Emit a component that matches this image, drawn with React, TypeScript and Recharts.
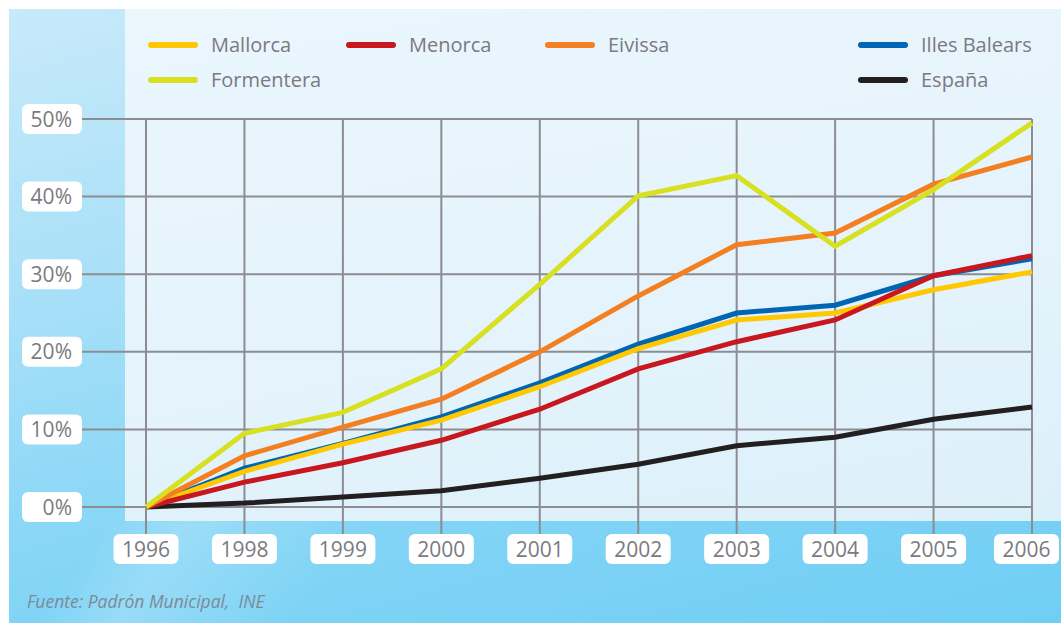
import { CartesianGrid, Line, LineChart, XAxis, YAxis } from "recharts";

const years = ["1996", "1998", "1999", "2000", "2001", "2002", "2003", "2004", "2005", "2006"];
const mallorca = [0, 4.6, 8.1, 11.2, 15.5, 20.4, 24.1, 25.0, 28.0, 30.3];
const menorca = [0, 3.2, 5.7, 8.6, 12.6, 17.8, 21.3, 24.1, 29.8, 32.4];
const eivissa = [0, 6.6, 10.3, 13.9, 20.0, 27.2, 33.8, 35.3, 41.6, 45.1];
const formentera = [0, 9.5, 12.2, 17.8, 28.7, 40.1, 42.7, 33.6, 40.9, 49.5];
const illesBalears = [0, 5.0, 8.2, 11.6, 16.0, 21.0, 25.0, 26.0, 29.8, 32.0];
const espana = [0, 0.5, 1.3, 2.1, 3.7, 5.5, 7.9, 9.0, 11.3, 12.9];
const yTicks = [0, 10, 20, 30, 40, 50];

const data = years.map((year, i) => ({
  year,
  mallorca: mallorca[i],
  menorca: menorca[i],
  eivissa: eivissa[i],
  formentera: formentera[i],
  illesBalears: illesBalears[i],
  espana: espana[i],
}));

const series = [
  { key: "espana", name: "España", color: "#231f20" },
  { key: "illesBalears", name: "Illes Balears", color: "#0066b3" },
  { key: "mallorca", name: "Mallorca", color: "#ffc800" },
  { key: "menorca", name: "Menorca", color: "#c8171e" },
  { key: "eivissa", name: "Eivissa", color: "#f37f21" },
  { key: "formentera", name: "Formentera", color: "#d7e021" },
];

const legendItems = [
  { name: "Mallorca", color: "#ffc800", left: 148, top: 45 },
  { name: "Menorca", color: "#c8171e", left: 346, top: 45 },
  { name: "Eivissa", color: "#f37f21", left: 545, top: 45 },
  { name: "Illes Balears", color: "#0066b3", left: 858, top: 45 },
  { name: "Formentera", color: "#d7e021", left: 148, top: 80 },
  { name: "España", color: "#231f20", left: 858, top: 80 },
];

const FONT = "'Open Sans', 'Noto Sans', sans-serif";
const GRID = "#8c8c91";
const TEXT = "#7a7a7f";
const PLOT_LEFT = 146;
const PLOT_BOTTOM = 507;
const LABEL_TOP = 534;

const YTick = (props: any) => {
  const { y, payload } = props;
  return (
    <g>
      <line x1={82} x2={PLOT_LEFT} y1={y} y2={y} stroke={GRID} strokeWidth={2} />
      <rect x={22} y={y - 15} width={60} height={30} rx={6} fill="#fff" />
      <text x={72} y={y + 7.5} textAnchor="end" fontFamily={FONT} fontSize={21} fill={TEXT}>
        {payload.value}%
      </text>
    </g>
  );
};

const XTick = (props: any) => {
  const { x, payload } = props;
  const boxW = 65;
  const boxX = Math.min(x - boxW / 2, 1061 - boxW - 2);
  return (
    <g>
      <line x1={x} x2={x} y1={PLOT_BOTTOM} y2={LABEL_TOP} stroke={GRID} strokeWidth={2} />
      <rect x={boxX} y={LABEL_TOP} width={boxW} height={30} rx={6} fill="#fff" />
      <text
        x={boxX + boxW / 2}
        y={LABEL_TOP + 22.5}
        textAnchor="middle"
        fontFamily={FONT}
        fontSize={21}
        fill={TEXT}
      >
        {payload.value}
      </text>
    </g>
  );
};

export default function App() {
  return (
    <div style={{ position: "absolute", left: 0, top: 0, width: 1061, height: 623, background: "#fff", overflow: "hidden" }}>
      <div
        style={{
          position: "absolute",
          left: 9,
          top: 9,
          width: 1052,
          height: 614,
          background: "linear-gradient(165deg, #c8eafa 0%, #a6dff8 35%, #84d5f6 65%, #70cef4 100%)",
        }}
      />
      <div
        style={{
          position: "absolute",
          left: 9,
          top: 300,
          width: 1052,
          height: 323,
          background: "linear-gradient(125deg, rgba(255,255,255,0) 20%, rgba(255,255,255,0.18) 26%, rgba(255,255,255,0) 40%)",
        }}
      />
      <div
        style={{
          position: "absolute",
          left: 125,
          top: 9,
          width: 936,
          height: 512,
          background: "linear-gradient(170deg, #ebf6fd 0%, #e4f3fc 60%, #dcf0fa 100%)",
        }}
      />
      {legendItems.map((item) => (
        <div key={item.name} style={{ position: "absolute", left: item.left, top: item.top - 14, height: 28, display: "flex", alignItems: "center" }}>
          <div style={{ width: 50, height: 6, borderRadius: 3, background: item.color }} />
          <span style={{ marginLeft: 13, fontFamily: FONT, fontSize: 20, color: TEXT, lineHeight: "28px" }}>{item.name}</span>
        </div>
      ))}
      <div
        style={{
          position: "absolute",
          left: 27,
          top: 589,
          fontFamily: FONT,
          fontStyle: "italic",
          fontSize: 17.5,
          color: "#7b8a97",
          whiteSpace: "pre",
        }}
      >
        {"Fuente: Padrón Municipal,  INE"}
      </div>
      <div style={{ position: "absolute", left: 0, top: 0 }}>
        <LineChart width={1061} height={623} data={data} margin={{ top: 119, right: 29, left: 82, bottom: 56 }}>
          <CartesianGrid stroke={GRID} strokeWidth={2} strokeOpacity={1} />
          <XAxis
            dataKey="year"
            interval={0}
            axisLine={false}
            tickLine={false}
            height={60}
            tick={<XTick />}
          />
          <YAxis
            type="number"
            domain={[0, 50]}
            ticks={yTicks}
            axisLine={false}
            tickLine={false}
            width={64}
            tick={<YTick />}
          />
          {series.map((s) => (
            <Line
              key={s.key}
              type="linear"
              dataKey={s.key}
              name={s.name}
              stroke={s.color}
              strokeWidth={5}
              dot={false}
              isAnimationActive={false}
            />
          ))}
        </LineChart>
      </div>
    </div>
  );
}
